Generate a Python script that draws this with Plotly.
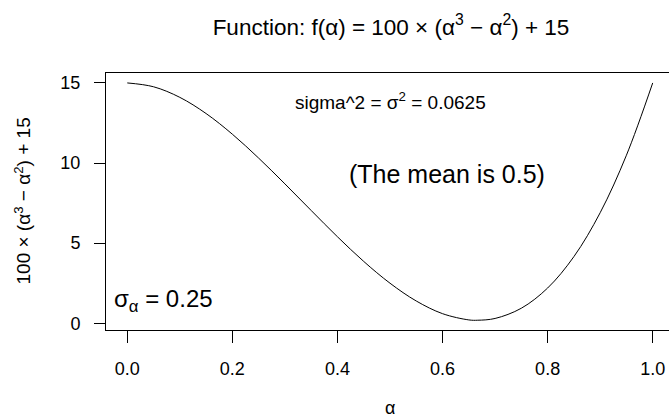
import plotly.graph_objects as go

# Values (alpha, f(alpha))
alpha = [0.0, 0.05, 0.10, 0.15, 0.20, 0.25, 0.30, 0.35, 0.40, 0.45, 0.50,
         0.55, 0.60, 0.65, 0.667, 0.70, 0.75, 0.80, 0.85, 0.90, 0.95, 1.0]
f_alpha = [15.0, 14.76, 14.10, 13.09, 11.80, 10.31, 8.70, 7.04, 5.40, 3.86, 2.50,
           1.39, 0.60, 0.21, 0.19, 0.30, 0.94, 2.20, 4.16, 6.90, 10.49, 15.0]

x_tickvals = [0.0, 0.2, 0.4, 0.6, 0.8, 1.0]
x_ticktext = ["0.0", "0.2", "0.4", "0.6", "0.8", "1.0"]
y_tickvals = [0, 5, 10, 15]
y_ticktext = ["0", "5", "10", "15"]

FONT = "Liberation Sans, Arial, Helvetica, sans-serif"

W, H = 669, 420
PLOT_TOP, PLOT_BOTTOM, PLOT_LEFT = 73, 330, 106
PLOT_H = PLOT_BOTTOM - PLOT_TOP
PLOT_W = W - PLOT_LEFT

fig = go.Figure()
fig.add_trace(go.Scatter(x=alpha, y=f_alpha, mode="lines",
                         line=dict(color="black", width=1, shape="spline"),
                         hoverinfo="skip", showlegend=False))

fig.update_layout(
    width=W, height=H, autosize=False,
    margin=dict(l=PLOT_LEFT, r=0, t=PLOT_TOP, b=H - PLOT_BOTTOM, pad=0),
    paper_bgcolor="white", plot_bgcolor="white",
    font=dict(family=FONT, size=18, color="black"),
    title=dict(text="Function: f(α) = 100 × (α<sup>3</sup> − α<sup>2</sup>) + 15",
               xref="container", x=391/W, xanchor="center",
               yref="container", y=1-27/H, yanchor="middle",
               font=dict(size=22.5, color="black", family=FONT)),
    xaxis=dict(range=[-0.0405, 1.031], tickvals=x_tickvals, ticktext=x_ticktext,
               showline=True, linecolor="black", linewidth=1, mirror=True,
               ticks="outside", ticklen=12, tickwidth=1, tickcolor="black",
               ticklabelstandoff=10, ticklabeloverflow="allow",
               showgrid=False, zeroline=False,
               tickfont=dict(size=18, color="black", family=FONT)),
    yaxis=dict(range=[-0.42, 15.62], tickvals=y_tickvals, ticktext=y_ticktext,
               showline=True, linecolor="black", linewidth=1, mirror=False,
               ticks="outside", ticklen=11, tickwidth=1, tickcolor="black",
               ticklabelstandoff=10, ticklabeloverflow="allow",
               showgrid=False, zeroline=False,
               tickfont=dict(size=18, color="black", family=FONT)),
)

annotations = [
    dict(text="sigma^2 = σ<sup>2</sup> = 0.0625", x=0.5, y=13.9, xref="x", yref="y",
         showarrow=False, xanchor="center", yanchor="middle", font=dict(size=19)),
    dict(text="(The mean is 0.5)", x=0.608, y=9.3, xref="x", yref="y",
         showarrow=False, xanchor="center", yanchor="middle", font=dict(size=25)),
    dict(text="σ<sub>α</sub> = 0.25", x=-0.029, y=1.45, xref="x", yref="y",
         showarrow=False, xanchor="left", yanchor="middle", font=dict(size=24)),
    dict(text="α", x=0.5, y=(PLOT_BOTTOM-408)/PLOT_H, xref="x", yref="paper",
         showarrow=False, xanchor="center", yanchor="middle", font=dict(size=18)),
    dict(text="100 × (α<sup>3</sup> − α<sup>2</sup>) + 15", x=(22-PLOT_LEFT)/PLOT_W, y=0.5,
         xref="paper", yref="paper", textangle=-90,
         showarrow=False, xanchor="center", yanchor="middle", font=dict(size=19)),
]
fig.update_layout(annotations=annotations)

fig.write_html("out.html",
               config={"displayModeBar": False},
               post_script="document.body.style.margin='0';"
                           "document.body.style.overflow='hidden';")
